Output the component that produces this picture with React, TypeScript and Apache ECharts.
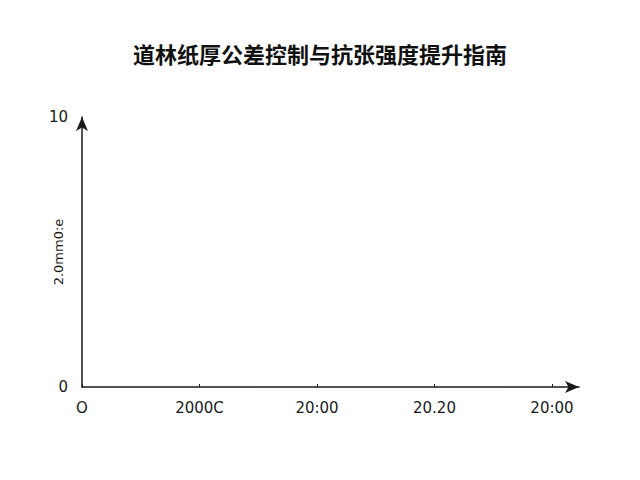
import React, { useEffect, useRef } from "react";
import * as echarts from "echarts";

const titleText = "道林纸厚公差控制与抗张强度提升指南";
const xTickValues = [0, 1, 2, 3, 4];
const xTickLabels = ["O", "2000C", "20:00", "20.20", "20:00"];
const yTickValues = [0, 10];
const yAxisName = "2.0mm0:e";

const App: React.FC = () => {
  const chartRef = useRef<HTMLDivElement>(null);

  useEffect(() => {
    if (!chartRef.current) return undefined;
    const chart = echarts.init(chartRef.current, null, { renderer: "svg" });
    const axisColor = "#1a1a1a";
    const font = "'DejaVu Sans', 'Noto Sans', sans-serif";

    const options: echarts.EChartsOption = {
      animation: false,
      backgroundColor: "#ffffff",
      title: {
        text: titleText,
        left: "center",
        top: 37,
        textStyle: {
          fontSize: 22,
          fontWeight: "bold",
          color: "#111111",
          fontFamily: "'Noto Sans CJK SC', sans-serif",
        },
      },
      grid: { left: 82, right: 61, top: 117, bottom: 93, containLabel: false },
      xAxis: {
        type: "value",
        min: 0,
        max: 4.23,
        interval: 1,
        splitLine: { show: false },
        axisLine: {
          show: true,
          symbol: ["none", "arrow"],
          symbolSize: [9, 14],
          lineStyle: { color: axisColor, width: 1.5 },
        },
        axisTick: {
          show: true,
          length: 3,
          inside: true,
          customValues: xTickValues,
          lineStyle: { color: axisColor },
        },
        axisLabel: {
          customValues: xTickValues,
          margin: 13,
          fontSize: 15,
          color: "#1a1a1a",
          fontFamily: font,
          formatter: (v: number) => xTickLabels[Math.round(v)] ?? "",
        },
      },
      yAxis: {
        type: "value",
        min: 0,
        max: 10,
        interval: 10,
        name: yAxisName,
        nameLocation: "middle",
        nameGap: 17,
        nameRotate: 90,
        nameMoveOverlap: false,
        nameTextStyle: { fontSize: 13, color: "#1a1a1a", fontFamily: font },
        splitLine: { show: false },
        axisLine: {
          show: true,
          symbol: ["none", "arrow"],
          symbolSize: [9, 14],
          lineStyle: { color: axisColor, width: 1.5 },
        },
        axisTick: { show: false },
        axisLabel: {
          customValues: yTickValues,
          margin: 14,
          fontSize: 15,
          color: "#1a1a1a",
          fontFamily: font,
        },
      },
      series: [],
    } as echarts.EChartsOption;
    chart.setOption(options);

    return () => {
      chart.dispose();
    };
  }, []);

  return (
    <div
      ref={chartRef}
      style={{ position: "fixed", left: 0, top: 0, width: "640px", height: "480px" }}
    />
  );
};

export default App;
